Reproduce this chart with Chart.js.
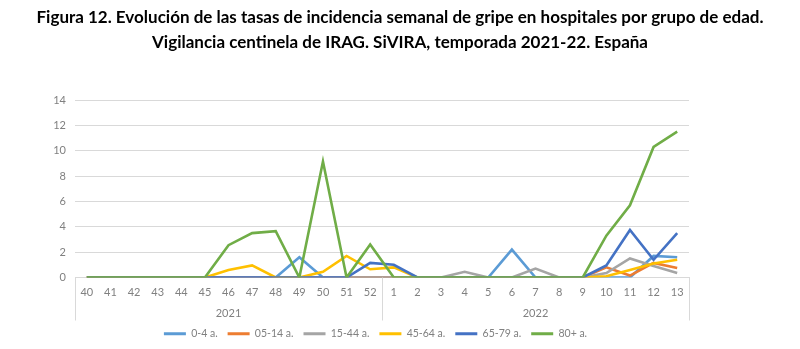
<!DOCTYPE html>
<html>
<head>
<meta charset="utf-8">
<script src="https://cdn.jsdelivr.net/npm/chart.js@4.4.1/dist/chart.umd.min.js"></script>
<style>
  html, body { margin: 0; padding: 0; background: #ffffff; }
  #wrap { width: 800px; height: 349px; }
</style>
</head>
<body>
<div id="wrap"><canvas id="c" width="800" height="349"></canvas></div>
<script>
// Epidemiological weeks of the 2021-22 season
const weeks = ['40','41','42','43','44','45','46','47','48','49','50','51','52',
               '1','2','3','4','5','6','7','8','9','10','11','12','13'];
const years = ['2021', '2022'];
const weeksPerYear = [13, 13];

const titleLines = [
  'Figura 12. Evolución de las tasas de incidencia semanal de gripe en hospitales por grupo de edad.',
  'Vigilancia centinela de IRAG. SiVIRA, temporada 2021-22. España'
];

// Weekly incidence per age group
const seriesNames = ['0-4 a.', '05-14 a.', '15-44 a.', '45-64 a.', '65-79 a.', '80+ a.'];
const age0to4   = [0,0,0,0,0,0,0,0,0,1.6,0,0,0,   0,0,0,0,0,2.2,0,0,0,0,0,1.7,1.6];
const age5to14  = [0,0,0,0,0,0,0,0,0,0,0,0,0,     0,0,0,0,0,0,0,0,0,0.8,0.15,1.15,0.75];
const age15to44 = [0,0,0,0,0,0,0,0,0,0,0,0,0,     0,0,0,0.45,0,0,0.7,0,0,0.35,1.5,0.9,0.35];
const age45to64 = [0,0,0,0,0,0,0.6,0.95,0,0,0.45,1.7,0.65, 0.8,0,0,0,0,0,0,0,0,0.1,0.6,1.1,1.4];
const age65to79 = [0,0,0,0,0,0,0,0,0,0,0,0,1.15, 1.0,0,0,0,0,0,0,0,0,0.95,3.75,1.4,3.5];
const age80plus = [0,0,0,0,0,0,2.55,3.5,3.65,0,9.15,0,2.6, 0,0,0,0,0,0,0,0,0,3.3,5.7,10.3,11.5];
const yTicks = [0, 2, 4, 6, 8, 10, 12, 14];

const seriesData = [age0to4, age5to14, age15to44, age45to64, age65to79, age80plus];
const seriesColors = ['#5B9BD5', '#ED7D31', '#A5A5A5', '#FFC000', '#4472C4', '#70AD47'];

const labelFont = 'Lato';
const labelColor = '#808080';
const gridColor = '#D9D9D9';

// Two-line heading above the plot
const headingPlugin = {
  id: 'heading',
  afterDraw(chart) {
    const ctx = chart.ctx;
    ctx.save();
    ctx.fillStyle = '#000000';
    ctx.font = 'bold 17px ' + labelFont;
    ctx.textAlign = 'center';
    ctx.textBaseline = 'alphabetic';
    ctx.fillText(titleLines[0], 400, 22.5, 778);
    ctx.fillText(titleLines[1], 400, 47.5, 778);
    ctx.restore();
  }
};

// Year row under the week labels, with divider lines between years
const yearRowPlugin = {
  id: 'yearRow',
  afterDraw(chart) {
    const x = chart.scales.x;
    const area = chart.chartArea;
    const ctx = chart.ctx;
    const half = (x.getPixelForValue(1) - x.getPixelForValue(0)) / 2;
    ctx.save();
    ctx.strokeStyle = gridColor;
    ctx.lineWidth = 1;
    const dividers = [area.left];
    let start = 0;
    weeksPerYear.forEach((n, i) => {
      const end = start + n - 1;
      dividers.push(x.getPixelForValue(end) + half);
      const cx = (x.getPixelForValue(start) + x.getPixelForValue(end)) / 2;
      ctx.fillStyle = labelColor;
      ctx.font = '11px ' + labelFont;
      ctx.textAlign = 'center';
      ctx.textBaseline = 'middle';
      ctx.fillText(years[i], cx, area.bottom + 36);
      start += n;
    });
    dividers.forEach(px => {
      const xx = Math.round(px) + 0.5;
      ctx.beginPath();
      ctx.moveTo(xx, area.bottom);
      ctx.lineTo(xx, area.bottom + 43);
      ctx.stroke();
    });
    ctx.restore();
  }
};

new Chart(document.getElementById('c'), {
  type: 'line',
  data: {
    labels: weeks,
    datasets: seriesNames.map((name, i) => ({
      label: name,
      data: seriesData[i],
      borderColor: seriesColors[i],
      backgroundColor: seriesColors[i],
      borderWidth: 2.6,
      pointRadius: 0,
      pointHoverRadius: 0,
      tension: 0,
      fill: false,
      order: seriesNames.length - i
    }))
  },
  options: {
    responsive: false,
    devicePixelRatio: 1,
    animation: false,
    events: [],
    layout: { padding: { top: 100, left: 0, right: 49, bottom: 0 } },
    plugins: {
      title: { display: false },
      tooltip: { enabled: false },
      legend: {
        position: 'bottom',
        labels: {
          color: labelColor,
          font: { family: labelFont, size: 10.5 },
          boxWidth: 22,
          boxHeight: 3,
          padding: 10,
          generateLabels(chart) {
            return chart.data.datasets.map((ds, i) => ({
              text: ds.label,
              fillStyle: ds.borderColor,
              strokeStyle: ds.borderColor,
              lineWidth: 0,
              hidden: false,
              datasetIndex: i,
              fontColor: labelColor
            }));
          }
        }
      }
    },
    scales: {
      x: {
        type: 'category',
        offset: true,
        grid: { display: false, drawTicks: false },
        border: { display: true, color: gridColor, width: 1 },
        ticks: {
          color: labelColor,
          font: { family: labelFont, size: 11 },
          padding: 8,
          maxRotation: 0,
          autoSkip: false
        },
        afterFit(scale) { scale.height = 41; }
      },
      y: {
        min: 0,
        max: 14,
        grid: { color: gridColor, drawTicks: false },
        border: { display: false },
        ticks: {
          stepSize: 2,
          color: labelColor,
          font: { family: labelFont, size: 11 },
          padding: 9,
          callback: (v) => yTicks.includes(v) ? String(v) : ''
        },
        afterFit(scale) { scale.width = 75; }
      },
      yRight: {
        position: 'right',
        display: true,
        grid: { display: false, drawTicks: false },
        border: { display: false },
        ticks: { display: false },
        afterFit(scale) { scale.width = 62; }
      }
    }
  },
  plugins: [headingPlugin, yearRowPlugin]
});
</script>
</body>
</html>
